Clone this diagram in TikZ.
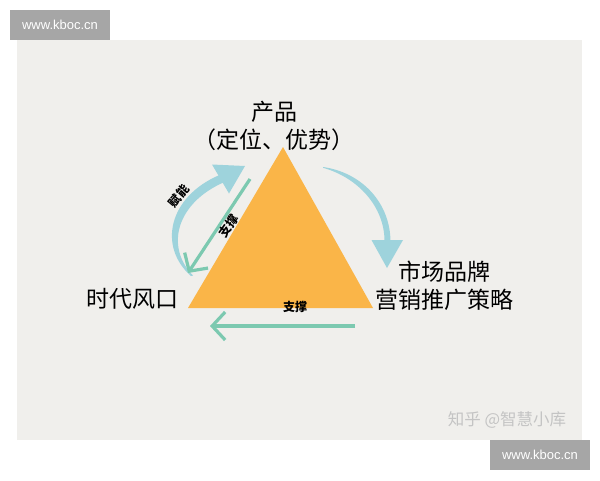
\documentclass[tikz,border=0pt]{standalone}
\usepackage{fontspec}
\setmainfont{Liberation Sans}
\newfontfamily\cjk{Noto Sans CJK SC}
\usetikzlibrary{arrows.meta}
\definecolor{panelbg}{RGB}{240,239,236}
\definecolor{wmgray}{RGB}{166,166,166}
\definecolor{triorange}{RGB}{250,181,72}
\definecolor{lightblue}{RGB}{158,211,220}
\definecolor{tealgreen}{RGB}{124,201,176}
\definecolor{zhgray}{RGB}{196,196,196}
\tikzset{
  wmbox/.style={fill=wmgray, text=white, minimum width=100pt, minimum height=30pt, inner sep=0pt, font=\fontsize{13}{13}\selectfont},
  biglabel/.style={align=center, inner sep=0pt, font=\cjk\fontsize{23}{28}\selectfont, text=black},
  smalllabel/.style={inner sep=0pt, font=\cjk\bfseries\fontsize{12}{12}\selectfont, text=black},
  greenarrow/.style={draw=tealgreen, line width=3.2pt, -{Straight Barb[length=13pt, width=28pt]}},
}
\begin{document}
\begin{tikzpicture}[x=1pt,y=-1pt]
\useasboundingbox (0,0) rectangle (600,480);
\fill[white] (0,0) rectangle (600,480);
\fill[panelbg] (17,40) rectangle (582,440);
% watermarks
\node[wmbox] (wmtop) at (60,25) {www.kboc.cn};
\node[wmbox] (wmbot) at (540,455) {www.kboc.cn};
\node[inner sep=0pt, text=zhgray, font=\cjk\fontsize{16.5}{17}\selectfont] (zhihu) at (507,420) {知乎 @智慧小库};
% triangle
\coordinate (apex) at (283,147);
\coordinate (bl) at (188,308);
\coordinate (br) at (373,308);
\fill[triorange] (apex) -- (br) -- (bl) -- cycle;
% labels
\node[biglabel] (product) at (274,125.5) {产品\\（定位、优势）};
\node[biglabel] (market) at (444,286) {市场品牌\\营销推广策略};
\node[biglabel] (era) at (132,299) {时代风口};
% top-right curved arrow (product -> market)
\coordinate (trs) at (323,167);
\coordinate (trt) at (387,268);
\fill[lightblue] (trs) .. controls (362,172.5) and (390.5,203) .. (390.5,242) -- (384.5,242) .. controls (385,207) and (358,177.5) .. (323,167.8) -- cycle;
\fill[lightblue] (371.5,240) -- (403,240) -- (trt) -- cycle;
% left curved arrow (era -> product), "赋能"
\coordinate (lcs) at (191,276);
\coordinate (lct) at (245,166);
\fill[lightblue] (lcs) .. controls (158,247) and (168,197) .. (219.5,175) -- (224.5,182) .. controls (176,203) and (165,247) .. (193,275.5) -- cycle;
\fill[lightblue] (212,164.5) -- (lct) -- (229,193.5) -- cycle;
% green arrow along left edge (product -> era), "支撑"
\coordinate (gls) at (250,179);
\coordinate (glt) at (188,273);
\draw[greenarrow] (gls) -- (glt);
% green bottom arrow (market -> era)
\coordinate (gbs) at (355,326);
\coordinate (gbt) at (210,326);
\draw[greenarrow] (gbs) -- (gbt);
% small labels
\node[smalllabel, rotate=50] (funeng) at (179,196) {赋能};
\node[smalllabel, rotate=55] (zhicheng1) at (229,226) {支撑};
\node[smalllabel] (zhicheng2) at (295,307) {支撑};
\end{tikzpicture}
\end{document}
